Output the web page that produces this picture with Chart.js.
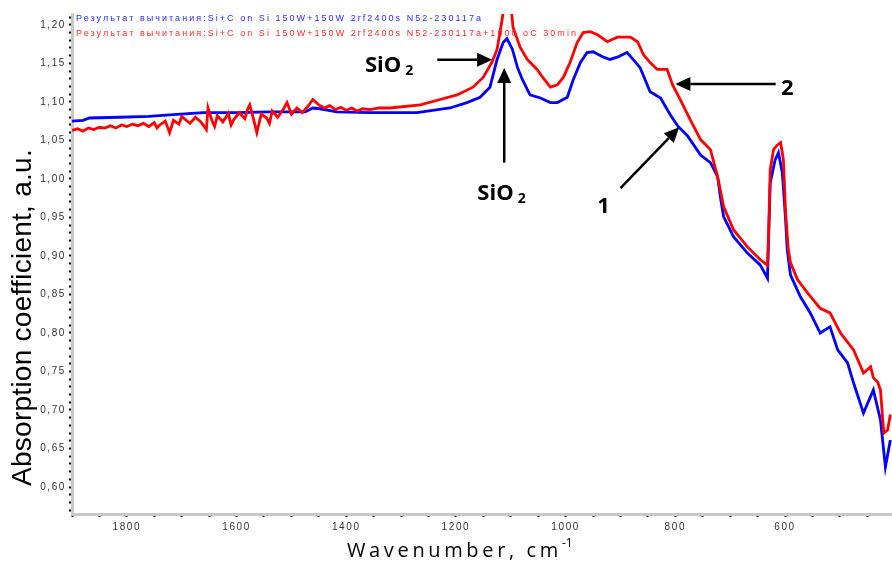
<!DOCTYPE html>
<html>
<head>
<meta charset="utf-8">
<script src="https://cdn.jsdelivr.net/npm/chart.js@4.4.1/dist/chart.umd.min.js"></script>
<style>
  html, body { margin: 0; padding: 0; background: #fff; }
  #wrap { width: 892px; height: 562px; position: relative; }
</style>
</head>
<body>
<div id="wrap"><canvas id="spectrum"></canvas></div>
<script>
// legend lines (top left of the plot)
const seriesNames = [
  'Результат вычитания:Si+C on Si 150W+150W 2rf2400s N52-230117a',
  'Результат вычитания:Si+C on Si 150W+150W 2rf2400s N52-230117a+1000 oC 30min'
];

// series 2 (red, annealed)
const redWave = [1900, 1890, 1880, 1870, 1860, 1850, 1840, 1830, 1820, 1810, 1800, 1790, 1780, 1770, 1760, 1750,
  1745, 1740, 1730, 1722, 1715, 1705, 1700, 1695, 1685, 1675, 1665, 1655, 1652, 1645, 1640, 1635, 1625, 1615,
  1610, 1605, 1595, 1585, 1580, 1576, 1570, 1563, 1555, 1545, 1540, 1535, 1525, 1515, 1508, 1500, 1490, 1480,
  1470, 1461, 1450, 1440, 1430, 1420, 1410, 1400, 1390, 1380, 1370, 1357, 1340, 1320, 1265, 1229, 1198, 1169,
  1150, 1134, 1125, 1116, 1110, 1101, 1096, 1083, 1070, 1052, 1041, 1028, 1015, 1004, 992, 979, 968, 955, 942,
  924, 906, 882, 869, 858, 846, 833, 815, 805, 791, 773, 754, 736, 723, 712, 694, 669, 645, 632, 630, 627, 621,
  614, 608, 603, 599, 594, 590, 577, 559, 536, 518, 499, 475, 457, 444, 439, 431, 426, 420, 413, 408];
const redAbs = [1.063, 1.065, 1.062, 1.066, 1.064, 1.067, 1.066, 1.069, 1.066, 1.070, 1.068, 1.071, 1.069, 1.072,
  1.068, 1.073, 1.066, 1.070, 1.075, 1.060, 1.076, 1.071, 1.081, 1.078, 1.072, 1.080, 1.074, 1.064, 1.092, 1.076,
  1.068, 1.082, 1.074, 1.085, 1.070, 1.077, 1.086, 1.078, 1.090, 1.096, 1.080, 1.060, 1.084, 1.079, 1.072, 1.088,
  1.080, 1.090, 1.099, 1.084, 1.092, 1.086, 1.094, 1.103, 1.096, 1.092, 1.095, 1.090, 1.093, 1.089, 1.092, 1.088,
  1.091, 1.090, 1.092, 1.092, 1.096, 1.103, 1.109, 1.119, 1.132, 1.152, 1.168, 1.206, 1.235, 1.235, 1.197, 1.171,
  1.155, 1.142, 1.131, 1.119, 1.122, 1.132, 1.151, 1.177, 1.190, 1.191, 1.187, 1.178, 1.184, 1.184, 1.178, 1.161,
  1.151, 1.142, 1.142, 1.122, 1.103, 1.077, 1.051, 1.038, 1.003, 0.964, 0.934, 0.912, 0.895, 0.888, 0.930, 1.012,
  1.038, 1.044, 1.047, 1.025, 0.956, 0.908, 0.891, 0.869, 0.852, 0.832, 0.826, 0.800, 0.778, 0.748, 0.756, 0.742,
  0.736, 0.726, 0.670, 0.674, 0.694];

// series 1 (blue)
const blueWave = [1900, 1880, 1868, 1813, 1760, 1722, 1661, 1600, 1539, 1475, 1461, 1448, 1417, 1357, 1271, 1211,
  1180, 1156, 1138, 1125, 1114, 1107, 1097, 1088, 1079, 1065, 1046, 1028, 1015, 997, 986, 973, 961, 950, 931,
  919, 906, 888, 877, 864, 846, 827, 809, 795, 778, 754, 736, 723, 718, 712, 694, 669, 645, 632, 627, 618, 612,
  605, 599, 596, 590, 572, 554, 536, 518, 504, 486, 475, 457, 439, 426, 417, 408];
const blueAbs = [1.075, 1.076, 1.079, 1.080, 1.081, 1.083, 1.086, 1.086, 1.087, 1.087, 1.092, 1.091, 1.087, 1.086,
  1.086, 1.092, 1.099, 1.106, 1.119, 1.155, 1.177, 1.182, 1.168, 1.145, 1.129, 1.109, 1.105, 1.099, 1.099, 1.106,
  1.129, 1.151, 1.164, 1.165, 1.158, 1.155, 1.158, 1.164, 1.155, 1.144, 1.113, 1.105, 1.083, 1.068, 1.056, 1.031,
  1.021, 1.003, 0.977, 0.951, 0.925, 0.904, 0.888, 0.871, 0.995, 1.025, 1.034, 1.008, 0.947, 0.908, 0.875, 0.847,
  0.826, 0.800, 0.808, 0.778, 0.761, 0.735, 0.696, 0.726, 0.687, 0.626, 0.661];

const xTickLabels = [1800, 1600, 1400, 1200, 1000, 800, 600];
const yTickLabels = [0.60, 0.65, 0.70, 0.75, 0.80, 0.85, 0.90, 0.95, 1.00, 1.05, 1.10, 1.15, 1.20];

// arrows + labels, anchored in data coordinates [wavenumber, absorption]
const notes = [
  { text: 'SiO', sub: '2', at: [1366, 1.139], tail: [1234, 1.1545], tip: [1134, 1.1545] },
  { text: 'SiO', sub: '2', at: [1161, 0.973], tail: [1112, 1.021], tip: [1112, 1.144] },
  { text: '1', at: [931, 0.956], tail: [900, 0.988], tip: [793, 1.067] },
  { text: '2', at: [596, 1.109], tail: [617, 1.123], tip: [800, 1.123] }
];

function spaced(ctx, str, x, y, font, color, width) {
  ctx.font = font;
  ctx.letterSpacing = '0px';
  const w = ctx.measureText(str).width;
  ctx.letterSpacing = ((width - w) / str.length) + 'px';
  ctx.fillStyle = color;
  ctx.textAlign = 'left';
  ctx.textBaseline = 'alphabetic';
  ctx.fillText(str, x, y);
}

function arrow(ctx, x1, y1, x2, y2) {
  const a = Math.atan2(y2 - y1, x2 - x1);
  const len = 15, half = 7;
  const bx = x2 - len * Math.cos(a), by = y2 - len * Math.sin(a);
  ctx.strokeStyle = '#000';
  ctx.fillStyle = '#000';
  ctx.lineWidth = 2.5;
  ctx.beginPath();
  ctx.moveTo(x1, y1);
  ctx.lineTo(bx, by);
  ctx.stroke();
  ctx.beginPath();
  ctx.moveTo(x2, y2);
  ctx.lineTo(bx + half * Math.sin(a), by - half * Math.cos(a));
  ctx.lineTo(bx - half * Math.sin(a), by + half * Math.cos(a));
  ctx.closePath();
  ctx.fill();
}

const decor = {
  id: 'decor',
  beforeDraw(chart) {
    // spaced-out tick labels like the original software
    chart.ctx.letterSpacing = '1.6px';
  },
  afterDraw(chart) {
    const ctx = chart.ctx;
    const xs = chart.scales.x, ys = chart.scales.y;
    ctx.save();

    // legend lines
    spaced(ctx, seriesNames[0], 76, 21, '9px "Liberation Sans"', '#2b2bff', 407);
    spaced(ctx, seriesNames[1], 76, 36, '9px "Liberation Sans"', '#ff2b2b', 502);

    // axis titles
    spaced(ctx, 'Wavenumber, cm', 347, 557, '20px "Open Sans"', '#000', 215);
    ctx.letterSpacing = '0px';
    ctx.font = '12px "Open Sans"';
    ctx.fillText('-1', 562, 547);

    ctx.translate(31, 318);
    ctx.rotate(-Math.PI / 2);
    spaced(ctx, 'Absorption coefficient, a.u.', -168, 0, '28px "Liberation Sans"', '#000', 337);
    ctx.setTransform(1, 0, 0, 1, 0, 0);

    // annotations
    notes.forEach(n => {
      arrow(ctx, xs.getPixelForValue(n.tail[0]), ys.getPixelForValue(n.tail[1]),
        xs.getPixelForValue(n.tip[0]), ys.getPixelForValue(n.tip[1]));
      const x = xs.getPixelForValue(n.at[0]), y = ys.getPixelForValue(n.at[1]);
      ctx.letterSpacing = '0px';
      ctx.fillStyle = '#000';
      ctx.textAlign = 'left';
      ctx.textBaseline = 'alphabetic';
      if (n.sub) {
        ctx.font = 'bold 22px "Open Sans"';
        ctx.fillText(n.text, x, y);
        const w = ctx.measureText(n.text).width;
        ctx.font = 'bold 14px "Open Sans"';
        ctx.fillText(n.sub, x + w + 4, y + 3);
      } else {
        ctx.font = 'bold 22px "Open Sans"';
        ctx.textAlign = 'center';
        ctx.fillText(n.text, x, y);
      }
    });
    ctx.restore();
  }
};

window.addEventListener('DOMContentLoaded', () => {
  const ctx = document.getElementById('spectrum').getContext('2d');
  new Chart(ctx, {
    type: 'line',
    data: {
      datasets: [{
        label: seriesNames[1],
        data: redWave.map((w, i) => ({ x: w, y: redAbs[i] })),
        borderColor: '#ff0000',
        borderWidth: 2.8,
        pointRadius: 0,
        tension: 0
      }, {
        label: seriesNames[0],
        data: blueWave.map((w, i) => ({ x: w, y: blueAbs[i] })),
        borderColor: '#0000ff',
        borderWidth: 2.8,
        pointRadius: 0,
        tension: 0
      }]
    },
    options: {
      responsive: true,
      maintainAspectRatio: false,
      animation: false,
      events: [],
      layout: { autoPadding: false, padding: { top: 14, right: 0, left: 0, bottom: 0 } },
      plugins: {
        legend: { display: false },
        tooltip: { enabled: false }
      },
      scales: {
        x: {
          type: 'linear',
          reverse: true,
          min: 405,
          max: 1900,
          afterFit: s => { s.height = 48; },
          border: { color: '#c8c8c8', width: 3 },
          grid: { drawOnChartArea: false, tickLength: 3, tickWidth: 2, tickColor: '#000' },
          ticks: {
            stepSize: 50,
            autoSkip: false,
            includeBounds: false,
            maxRotation: 0,
            padding: 4,
            color: '#333',
            font: { family: 'Liberation Sans', size: 10 },
            callback: v => xTickLabels.includes(v) ? String(v) : ''
          }
        },
        y: {
          min: 0.565,
          max: 1.214,
          afterFit: s => { s.width = 72; },
          border: { color: '#c8c8c8', width: 3 },
          grid: { drawOnChartArea: false, tickLength: 3, tickWidth: 2, tickColor: '#000' },
          ticks: {
            stepSize: 0.01,
            autoSkip: false,
            includeBounds: false,
            padding: 3,
            color: '#333',
            font: { family: 'Liberation Sans', size: 10 },
            callback: v => {
              const hit = yTickLabels.find(t => Math.abs(t - v) < 0.001);
              return hit === undefined ? '' : hit.toFixed(2).replace('.', ',');
            }
          }
        }
      }
    },
    plugins: [decor]
  });
});
</script>
</body>
</html>
